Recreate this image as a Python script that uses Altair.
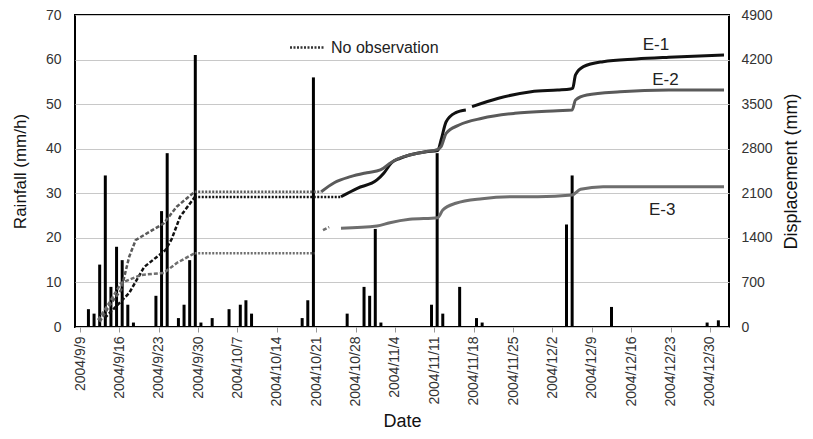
import altair as alt
import pandas as pd

START = pd.Timestamp("2004-09-09")

# ---------------- rainfall (mm/h), one bar per day ----------------
rain_dates = ["2004-09-10", "2004-09-11", "2004-09-12", "2004-09-13", "2004-09-14",
              "2004-09-15", "2004-09-16", "2004-09-17", "2004-09-18", "2004-09-22",
              "2004-09-23", "2004-09-24", "2004-09-26", "2004-09-27", "2004-09-28",
              "2004-09-29", "2004-09-30", "2004-10-02", "2004-10-05", "2004-10-07",
              "2004-10-08", "2004-10-09", "2004-10-18", "2004-10-19", "2004-10-20",
              "2004-10-26", "2004-10-29", "2004-10-30", "2004-10-31", "2004-11-01",
              "2004-11-10", "2004-11-11", "2004-11-12", "2004-11-15", "2004-11-18",
              "2004-11-19", "2004-12-04", "2004-12-05", "2004-12-12", "2004-12-29",
              "2004-12-31"]
rain_vals = [4, 3, 14, 34, 9, 18, 15, 5, 1, 7,
             26, 39, 2, 5, 15, 61, 1, 2, 4, 5,
             6, 3, 2, 6, 56, 3, 9, 7, 22, 1,
             5, 39, 3, 9, 2, 1, 23, 34, 4.5, 1,
             1.5]

# ---------------- displacement (mm); x in days since 2004-09-09 ----------------
# early, dashed part
e1_dash_day = [4.4, 8.75, 11.4, 15.2, 16.3, 17.8, 20.4]
e1_dash_mm = [141, 534, 942, 1209, 1382, 1732, 2040]
e2_dash_day = [3.5, 5.3, 7.3, 8.75, 9.9, 14.9, 17.2, 20.4]
e2_dash_mm = [80, 345, 581, 1104, 1366, 1628, 1889, 2125]
e3_dash_day = [3.2, 5.5, 7.3, 10.8, 14.9, 17.2, 20.4]
e3_dash_mm = [110, 420, 691, 817, 848, 1005, 1160]
e3_frag_day = [43.2, 44.3]
e3_frag_mm = [1520, 1570]

# no observation, dotted
e1_gap_day = [20.4, 46.4]
e1_gap_mm = [2040, 2040]
e2_gap_day = [20.4, 42.9]
e2_gap_mm = [2125, 2125]
e3_gap_day = [20.4, 41.7]
e3_gap_mm = [1160, 1160]

# observed, solid
e1a_day = [46.4, 49.3, 52.8, 54.0, 55.4, 56.9, 58.6, 61.5, 63.6, 64.2, 65.1, 66.8, 68.6]
e1a_mm = [2046, 2178, 2309, 2414, 2580, 2649, 2701, 2753, 2770, 2937, 3224, 3366, 3408]
e1b_day = [69.7, 74.4, 80.2, 84.9, 87.2, 87.6, 88.1, 89.5, 93.0, 98.9, 104.7, 114.5]
e1b_mm = [3460, 3592, 3695, 3722, 3738, 3749, 3958, 4088, 4167, 4209, 4236, 4272]
e2_day = [42.9, 45.2, 48.1, 51.0, 53.4, 55.1, 56.3, 58.6, 61.5, 63.6, 64.2, 65.1,
          67.4, 71.5, 77.3, 84.9, 87.5, 88.1, 90.1, 96.0, 104.7, 114.5]
e2_mm = [2125, 2266, 2361, 2423, 2466, 2571, 2634, 2701, 2753, 2791, 2832, 3042,
         3172, 3278, 3356, 3397, 3408, 3565, 3644, 3695, 3722, 3722]
e3_day = [46.4, 52.8, 55.1, 58.6, 63.6, 64.5, 66.8, 71.5, 77.3, 81.4, 87.5, 89.0,
          93.0, 114.5]
e3_mm = [1550, 1586, 1638, 1691, 1716, 1837, 1943, 2015, 2046, 2046, 2073, 2163,
         2203, 2203]

series_names = ["E-1", "E-2", "E-3"]
series_colors = ["#111111", "#5a5a5a", "#6e6e6e"]
series_widths = [3, 3, 2.5]

label_text = ["E-1", "E-2", "E-3"]
label_day = [102.4, 104.1, 103.5]
label_mm = [4430, 3880, 1840]

tick_dates = ["2004-09-09", "2004-09-16", "2004-09-23", "2004-09-30", "2004-10-07",
              "2004-10-14", "2004-10-21", "2004-10-28", "2004-11-04", "2004-11-11",
              "2004-11-18", "2004-11-25", "2004-12-02", "2004-12-09", "2004-12-16",
              "2004-12-23", "2004-12-30"]
rain_ticks = [0, 10, 20, 30, 40, 50, 60, 70]
disp_ticks = [0, 700, 1400, 2100, 2800, 3500, 4200, 4900]


def seg(series, part, days, vals):
    return pd.DataFrame({
        "date": START + pd.to_timedelta(days, unit="D"),
        "disp": vals, "series": series, "part": part})


rain_df = pd.DataFrame({"date": pd.to_datetime(rain_dates) + pd.Timedelta(hours=12),
                        "rain": rain_vals})
dash_df = pd.concat([seg("E-1", "a", e1_dash_day, e1_dash_mm),
                     seg("E-2", "a", e2_dash_day, e2_dash_mm),
                     seg("E-3", "a", e3_dash_day, e3_dash_mm),
                     seg("E-3", "b", e3_frag_day, e3_frag_mm)])
gap_df = pd.concat([seg("E-1", "a", e1_gap_day, e1_gap_mm),
                    seg("E-2", "a", e2_gap_day, e2_gap_mm),
                    seg("E-3", "a", e3_gap_day, e3_gap_mm)])
solid_df = pd.concat([seg("E-1", "a", e1a_day, e1a_mm),
                      seg("E-1", "b", e1b_day, e1b_mm),
                      seg("E-2", "a", e2_day, e2_mm),
                      seg("E-3", "a", e3_day, e3_mm)])
lab_df = pd.DataFrame({"date": START + pd.to_timedelta(label_day, unit="D"),
                       "disp": label_mm, "text": label_text})


def dt(s):
    t = pd.Timestamp(s)
    return alt.DateTime(year=t.year, month=t.month, date=t.day, hours=t.hour)


xscale = alt.Scale(domain=[dt("2004-09-09"), dt("2005-01-01 12:00")])
xaxis = alt.Axis(values=[dt(d) for d in tick_dates], format="%Y/%-m/%-d",
                 labelAngle=-90, labelFontSize=14, labelPadding=4, tickSize=5,
                 tickColor="#999", grid=False, domain=False, labelColor="#333",
                 titleFontSize=18, titlePadding=6, titleFontWeight="normal")
X = alt.X("date:T", scale=xscale, axis=xaxis, title="Date")

ydisp = alt.Scale(domain=[0, 4900], nice=False)
disp_axis = alt.Axis(values=disp_ticks, format="d", grid=False, ticks=False,
                     domain=False, orient="right", labelPadding=12, labelFontSize=14,
                     labelColor="#333", titleFontSize=18, titlePadding=28,
                     titleAngle=270, titleFontWeight="normal")
Yd = alt.Y("disp:Q", scale=ydisp, axis=disp_axis, title="Displacement (mm)")
color_scale = alt.Scale(domain=series_names, range=series_colors)
width_scale = alt.Scale(domain=series_names, range=series_widths)

bars = alt.Chart(rain_df).mark_bar(size=3, color="black").encode(
    x=X,
    y=alt.Y("rain:Q", scale=alt.Scale(domain=[0, 70], nice=False),
            axis=alt.Axis(values=rain_ticks, grid=True, gridColor="#c8c8c8",
                          ticks=False, domain=False, labelPadding=14,
                          labelFontSize=14, labelColor="#333", titleFontSize=17,
                          titlePadding=16, titleFontWeight="normal"),
            title="Rainfall (mm/h)"))

solid = alt.Chart(solid_df).mark_line(interpolate="monotone").encode(
    x=X, y=Yd,
    color=alt.Color("series:N", scale=color_scale, legend=None),
    strokeWidth=alt.StrokeWidth("series:N", scale=width_scale, legend=None),
    detail="part:N")

dashed = alt.Chart(dash_df).mark_line(strokeDash=[4, 2], strokeWidth=2.5).encode(
    x=X, y=Yd,
    color=alt.Color("series:N", scale=color_scale, legend=None),
    detail="part:N")

dotted = alt.Chart(gap_df).mark_line(strokeDash=[2, 1.5], strokeWidth=2.5).encode(
    x=X, y=Yd,
    color=alt.Color("series:N", scale=color_scale, legend=None))

labels = alt.Chart(lab_df).mark_text(fontSize=17, color="#222",
                                     font="Liberation Sans").encode(
    x=X, y=Yd, text="text:N")

leg_df = pd.DataFrame({"t": ["No observation"]})
leg_line = alt.Chart(leg_df).mark_rule(strokeDash=[2, 1.5], strokeWidth=2.5,
                                       color="#333").encode(
    x=alt.value(215), x2=alt.value(250), y=alt.value(32.5))
leg_text = alt.Chart(leg_df).mark_text(align="left", baseline="middle", fontSize=16,
                                       color="#222", font="Liberation Sans").encode(
    x=alt.value(256), y=alt.value(33), text="t:N")

lines = alt.layer(solid, dashed, dotted, labels)

chart = alt.layer(bars, lines, leg_line, leg_text).resolve_scale(
    y="independent"
).properties(
    width=654, height=312,
    autosize=alt.AutoSizeParams(type="none"),
    padding={"left": 67, "top": 7, "right": 76, "bottom": 104},
).configure_view(
    stroke="black", strokeWidth=2
).configure_axis(
    labelFont="Liberation Sans", titleFont="Liberation Sans", titleColor="#111"
)

chart.save("out.html", embed_options={"renderer": "svg", "actions": False})
